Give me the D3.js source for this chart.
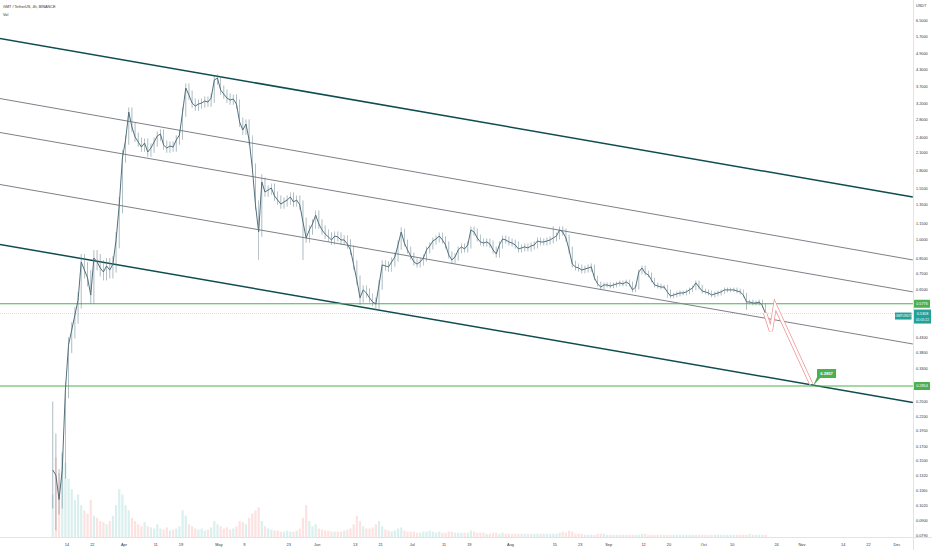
<!DOCTYPE html>
<html><head><meta charset="utf-8">
<script src="https://cdn.jsdelivr.net/npm/d3@7"></script>
<style>body{margin:0;background:#fff;overflow:hidden}svg{display:block;font-family:"Liberation Sans",Arial,sans-serif}</style>
</head><body><svg id="c" width="932" height="550"></svg>
<script>
// ---------- DATA ----------
const startDate = "2022-03-09"; // first daily bar
const closes = [
0.139,0.133,0.108,0.139,0.276,0.406,0.461,0.524,0.596,0.826,
0.771,0.720,0.622,0.854,0.826,0.784,0.758,0.798,0.771,0.811,
0.997,1.345,2.011,2.346,2.981,2.622,2.406,2.306,2.209,2.286,
2.117,2.190,2.306,2.427,2.470,2.247,2.190,2.228,2.209,2.346,
2.448,2.981,3.662,3.447,3.220,3.138,3.192,3.220,3.275,3.247,
3.360,3.920,3.988,3.599,3.477,3.360,3.304,3.332,3.192,2.736,
2.555,2.690,2.346,1.845,1.345,1.067,1.637,1.503,1.529,1.555,
1.453,1.403,1.356,1.380,1.403,1.440,1.380,1.403,1.345,1.162,
1.014,1.086,1.143,1.234,1.143,1.086,1.049,1.023,0.997,1.031,
1.023,0.997,0.997,0.963,0.915,0.805,0.708,0.607,0.650,0.633,
0.607,0.586,0.576,0.678,0.805,0.798,0.791,0.826,0.862,0.955,
1.067,0.971,0.915,0.869,0.826,0.811,0.826,0.854,0.915,0.947,
0.988,1.005,1.031,0.997,0.955,0.877,0.840,0.862,0.915,0.939,
0.923,0.955,1.086,1.067,1.014,0.980,0.971,0.980,0.963,0.915,
0.884,0.955,1.005,0.997,0.980,0.971,0.955,0.923,0.931,0.939,
0.931,0.947,0.955,0.988,0.980,0.980,0.988,0.997,1.014,1.031,
1.086,1.067,1.014,0.915,0.811,0.791,0.784,0.771,0.777,0.784,
0.791,0.720,0.684,0.666,0.678,0.678,0.672,0.678,0.684,0.690,
0.684,0.696,0.684,0.650,0.666,0.758,0.784,0.751,0.739,0.708,
0.678,0.672,0.666,0.666,0.639,0.617,0.622,0.628,0.633,0.633,
0.639,0.650,0.661,0.690,0.666,0.644,0.639,0.633,0.622,0.628,
0.633,0.639,0.650,0.650,0.650,0.650,0.644,0.639,0.622,0.586,
0.586,0.581,0.581,0.586,0.567,0.5308];
const highs = [
0.25,0.19,0.14,0.16,0.295,0.434,0.493,0.561,0.638,0.884,
0.884,0.825,0.770,0.914,0.914,0.884,0.839,0.854,0.854,0.868,
1.067,1.439,2.152,2.440,3.100,3.100,2.727,2.502,2.398,2.377,
2.377,2.278,2.398,2.524,2.569,2.569,2.337,2.317,2.317,2.440,
2.546,3.100,3.808,3.808,3.585,3.349,3.320,3.349,3.406,3.406,
3.494,4.077,4.110,4.050,3.743,3.616,3.494,3.465,3.465,3.320,
2.845,2.798,2.798,2.440,1.919,1.399,1.750,1.702,1.590,1.617,
1.617,1.511,1.459,1.435,1.459,1.498,1.498,1.459,1.459,1.399,
1.208,1.129,1.189,1.283,1.283,1.189,1.129,1.091,1.064,1.072,
1.072,1.064,1.037,1.037,1.002,0.952,0.837,0.736,0.676,0.676,
0.658,0.631,0.609,0.705,0.837,0.837,0.830,0.859,0.896,0.993,
1.110,1.099,1.000,0.942,0.895,0.851,0.851,0.880,0.942,0.975,
1.018,1.035,1.062,1.062,1.027,0.984,0.903,0.888,0.942,0.967,
0.967,0.984,1.119,1.119,1.099,1.044,1.009,1.009,1.009,0.992,
0.942,0.984,1.035,1.035,1.027,1.009,1.000,0.984,0.959,0.967,
0.967,0.975,0.984,1.018,1.018,1.009,1.018,1.027,1.120,1.062,
1.119,1.119,1.099,1.044,0.942,0.835,0.815,0.808,0.800,0.808,
0.815,0.807,0.734,0.698,0.692,0.692,0.692,0.692,0.698,0.704,
0.704,0.710,0.710,0.698,0.679,0.773,0.800,0.800,0.766,0.754,
0.722,0.692,0.685,0.679,0.679,0.652,0.634,0.641,0.646,0.646,
0.652,0.663,0.674,0.704,0.704,0.679,0.657,0.652,0.646,0.641,
0.646,0.652,0.663,0.663,0.663,0.663,0.663,0.657,0.652,0.634,
0.598,0.598,0.593,0.598,0.598,0.578];
const lows = [
0.10,0.083,0.095,0.10,0.129,0.257,0.378,0.429,0.487,0.554,
0.717,0.670,0.578,0.578,0.768,0.729,0.705,0.705,0.717,0.717,
0.754,0.927,1.251,1.931,2.252,2.517,2.310,2.214,2.121,2.121,
2.032,2.032,2.102,2.214,2.330,2.157,2.102,2.102,2.121,2.121,
2.252,2.350,2.862,3.309,3.091,3.012,3.012,3.064,3.091,3.117,
3.117,3.226,3.763,3.455,3.338,3.226,3.172,3.172,3.064,2.627,
2.453,2.453,2.252,1.771,1.291,0.840,1.024,1.443,1.443,1.468,
1.395,1.347,1.302,1.302,1.325,1.347,1.325,1.325,1.291,0.840,
0.973,0.973,1.043,1.097,1.097,1.043,1.007,0.982,0.957,0.957,
0.982,0.957,0.957,0.924,0.878,0.773,0.680,0.571,0.583,0.608,
0.583,0.563,0.547,0.553,0.651,0.766,0.759,0.759,0.793,0.828,
0.917,0.942,0.888,0.843,0.801,0.787,0.787,0.801,0.828,0.888,
0.919,0.958,0.975,0.967,0.926,0.851,0.815,0.815,0.836,0.888,
0.895,0.895,0.926,1.035,0.984,0.951,0.942,0.942,0.934,0.888,
0.857,0.857,0.926,0.967,0.951,0.942,0.926,0.895,0.895,0.903,
0.903,0.903,0.919,0.926,0.951,0.951,0.951,0.958,0.967,0.984,
1.000,1.035,0.984,0.888,0.787,0.767,0.760,0.748,0.748,0.754,
0.760,0.706,0.670,0.653,0.653,0.664,0.659,0.659,0.664,0.670,
0.670,0.670,0.670,0.637,0.637,0.653,0.743,0.736,0.724,0.694,
0.664,0.659,0.653,0.653,0.607,0.605,0.605,0.610,0.615,0.620,
0.620,0.626,0.637,0.648,0.653,0.631,0.626,0.620,0.610,0.610,
0.615,0.620,0.626,0.637,0.637,0.637,0.631,0.626,0.610,0.548,
0.574,0.569,0.569,0.569,0.556,0.525];
const volumes = [
40,75,60,80,70,55,45,35,40,30,25,22,35,20,18,15,14,12,15,20,30,45,40,
30,25,18,15,12,10,14,10,9,8,12,8,7,9,6,7,8,10,
25,20,12,10,8,7,8,6,7,9,15,12,
10,8,9,7,8,10,15,14,12,18,22,25,28,
15,10,8,7,6,6,5,5,6,5,5,6,8,18,30,15,10,12,
8,7,6,6,5,5,5,5,6,7,8,12,20,15,10,8,8,9,12,15,10,7,6,5,6,8,9,6,5,5,
5,4,4,5,5,6,5,4,5,4,4,5,5,4,4,4,4,4,6,5,4,4,4,3,3,4,4,3,4,3,3,
3,3,3,3,3,3,3,3,3,3,3,3,3,3,3,4,5,4,6,5,3,3,3,2,2,2,2,3,3,3,2,
2,2,2,2,2,2,2,2,2,2,3,3,2,2,2,2,2,2,2,2,2,2,2,2,2,2,2,2,2,2,
2,2,2,2,2,2,2,2,2,2,2,2,2,2,3,2,2,2,2,2];
const priceTicks = [6.5,5.7,4.9,4.3,3.7,3.2,2.8,2.4,2.1,1.8,1.55,1.35,1.15,1.0,0.85,0.75,0.65,0.43,0.38,0.33,0.25,0.22,0.195,0.17,0.15,0.132,0.116,0.102,0.09,0.079];
const timeTickDates = ["2022-03-14","2022-03-22","2022-04-01","2022-04-11","2022-04-19","2022-05-01","2022-05-09","2022-05-23","2022-06-01","2022-06-13","2022-06-21","2022-07-01","2022-07-11","2022-07-19","2022-08-01","2022-08-15","2022-08-23","2022-09-01","2022-09-12","2022-09-20","2022-10-01","2022-10-10","2022-10-24","2022-11-01","2022-11-14","2022-11-22","2022-12-01"];
const timeTickLabels = ["14","22","Apr","11","19","May","9","23","Jun","13","21","Jul","11","19","Aug","15","23","Sep","12","20","Oct","10","24","Nov","14","22","Dec"];
const channelDates = ["2022-02-20","2022-12-06"];
const channelStartPrices = [5.616,3.360,2.512,1.609,0.963];
const channelEndPrices   = [1.440,0.840,0.639,0.409,0.248];
const levelPrices = [0.5776,0.2854];
const lastPrice = 0.5308;
const arrowPoints = [["2022-10-20T08:00",0.534],["2022-10-22T05:00",0.457],["2022-10-23T12:00",0.571],["2022-11-03T22:00",0.290]];
const targetLabel = {date:"2022-11-04T12:00", price:0.2854, text:"0.2857"};

// ---------- CHART ----------
const svg = d3.select("#c");
const PR = 913, AX = 537;
const x = d3.scaleUtc().domain([new Date("2022-04-01"), new Date("2022-12-01")]).range([124,897]);
const y = d3.scaleLog().domain([0.079,6.5]).range([536,21]);
const vy = d3.scaleLinear().domain([0,80]).range([AX, AX-85]);

svg.append("rect").attr("width",932).attr("height",550).attr("fill","#fff");
svg.append("defs").append("clipPath").attr("id","plot").append("rect").attr("x",0).attr("y",0).attr("width",PR).attr("height",AX);
const g = svg.append("g").attr("clip-path","url(#plot)");

const day = i => d3.utcHour.offset(d3.utcDay.offset(new Date(startDate), i), 12);

// volume
g.append("g").selectAll("rect").data(volumes).join("rect")
  .attr("x",(d,i)=>x(day(i))-1.1).attr("width",2.2)
  .attr("y",d=>vy(d)).attr("height",d=>AX-vy(d))
  .attr("fill",(d,i)=> (i===0 || closes[i]>=closes[i-1]) ? "rgba(38,166,154,0.17)" : "rgba(239,83,80,0.17)");

// channel lines
const chStyle = [{c:"#0e4d4f",w:1.5},{c:"#5a6068",w:0.8},{c:"#5a6068",w:0.8},{c:"#5a6068",w:0.8},{c:"#0e4d4f",w:1.5}];
channelStartPrices.forEach((p,i)=>{
  g.append("line").attr("x1",x(new Date(channelDates[0]))).attr("y1",y(p))
   .attr("x2",x(new Date(channelDates[1]))).attr("y2",y(channelEndPrices[i]))
   .attr("stroke",chStyle[i].c).attr("stroke-width",chStyle[i].w);
});

// horizontal levels
levelPrices.forEach(p=>{
  g.append("line").attr("x1",0).attr("x2",PR).attr("y1",y(p)).attr("y2",y(p))
   .attr("stroke","#4caf50").attr("stroke-width",1.1);
});
g.append("line").attr("x1",0).attr("x2",PR).attr("y1",y(lastPrice)).attr("y2",y(lastPrice))
 .attr("stroke","rgba(242,54,69,0.35)").attr("stroke-width",0.7).attr("stroke-dasharray","1,1");

// price: wicks and closing line
const priceCol = "#5f7d89";
g.append("g").selectAll("line").data(closes).join("line")
 .attr("x1",(d,i)=>x(day(i))).attr("x2",(d,i)=>x(day(i)))
 .attr("y1",(d,i)=>y(highs[i])).attr("y2",(d,i)=>y(lows[i]))
 .attr("stroke",priceCol).attr("stroke-width",0.6).attr("opacity",0.85);
g.append("path").datum(closes)
 .attr("d", d3.line().x((d,i)=>x(day(i))).y(d=>y(d)))
 .attr("fill","none").attr("stroke","#53707c").attr("stroke-width",1);

// arrow (hollow)
const ap = arrowPoints.map(d=>[x(new Date(d[0]+"Z")), y(d[1])]);
const al = d3.line();
g.append("path").attr("d",al(ap)).attr("fill","none").attr("stroke","#f08c8c").attr("stroke-width",4).attr("stroke-linejoin","miter");
g.append("path").attr("d",al(ap)).attr("fill","none").attr("stroke","#fff").attr("stroke-width",2.6).attr("stroke-linejoin","miter");

// target callout
const tx = x(new Date(targetLabel.date+"Z")), ty = y(targetLabel.price);
svg.append("path").attr("d",`M${tx},${ty} L${tx+4},${ty-9} L${tx+4},${ty-17} L${tx+23},${ty-17} L${tx+23},${ty-8} L${tx+7},${ty-8} Z`).attr("fill","#4caf50");
svg.append("text").attr("x",tx+13.5).attr("y",ty-11).attr("text-anchor","middle").attr("font-size",4.2).attr("fill","#fff").attr("font-weight","bold").text(targetLabel.text);

// axes lines
svg.append("line").attr("x1",0).attr("x2",932).attr("y1",AX+0.5).attr("y2",AX+0.5).attr("stroke","#e0e3eb");
svg.append("line").attr("x1",PR+0.5).attr("x2",PR+0.5).attr("y1",0).attr("y2",550).attr("stroke","#e0e3eb");

// time labels
svg.append("g").selectAll("text").data(timeTickDates).join("text")
 .attr("x",d=>x(new Date(d))).attr("y",546).attr("text-anchor","middle")
 .attr("font-size",3.9).attr("fill","#333").text((d,i)=>timeTickLabels[i]);

// price labels
svg.append("g").selectAll("text").data(priceTicks).join("text")
 .attr("x",916).attr("y",d=>y(d)).attr("dy","0.35em")
 .attr("font-size",3.8).attr("fill","#333").text(d=>d.toFixed(4));
svg.append("text").attr("x",916).attr("y",7).attr("font-size",3.8).attr("fill","#333").text("USDT");

// level boxes on axis
function box(p, text, col){
  const yy=y(p);
  svg.append("rect").attr("x",914).attr("y",yy-4).attr("width",16).attr("height",8).attr("fill",col).attr("rx",0.5);
  svg.append("text").attr("x",922).attr("y",yy).attr("dy","0.35em").attr("text-anchor","middle").attr("font-size",3.8).attr("fill","#fff").text(text);
}
box(levelPrices[0], levelPrices[0].toFixed(4), "#4caf50");
box(levelPrices[1], levelPrices[1].toFixed(4), "#4caf50");
// current price box
const cy = y(lastPrice);
svg.append("rect").attr("x",914).attr("y",cy-4).attr("width",17).attr("height",14).attr("fill","#22a199");
svg.append("text").attr("x",922.5).attr("y",cy).attr("dy","0.35em").attr("text-anchor","middle").attr("font-size",3.8).attr("fill","#fff").text(lastPrice.toFixed(4));
svg.append("text").attr("x",922.5).attr("y",cy+6).attr("dy","0.35em").attr("text-anchor","middle").attr("font-size",3.4).attr("fill","#fff").text("01:05:22");
svg.append("rect").attr("x",895).attr("y",cy-1).attr("width",16.5).attr("height",7).attr("fill","#22a199");
svg.append("text").attr("x",903.3).attr("y",cy+2.5).attr("dy","0.35em").attr("text-anchor","middle").attr("font-size",3.2).attr("fill","#fff").text("GMTUSDT");

// legend
svg.append("text").attr("x",3).attr("y",8).attr("font-size",3.8).attr("fill","#333").text("GMT / TetherUS, 4h, BINANCE");
svg.append("text").attr("x",3).attr("y",16).attr("font-size",3.8).attr("fill","#333").text("Vol");
</script></body></html>
